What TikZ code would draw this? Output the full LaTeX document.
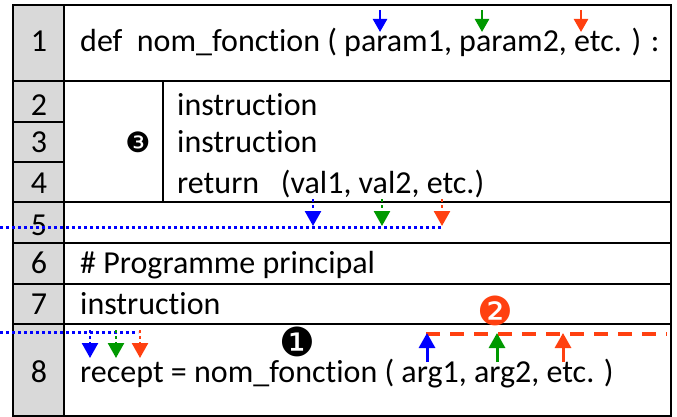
\documentclass[tikz,border=0pt]{standalone}
\usepackage{fontspec}
\setmainfont{Carlito}[RawFeature=-liga]
\newfontfamily\dingfont{DejaVu Sans}
\usetikzlibrary{arrows.meta}
\definecolor{ArgBlue}{HTML}{0000FF}
\definecolor{ArgGreen}{HTML}{009900}
\definecolor{ArgRed}{HTML}{FF4010}
\definecolor{NumGray}{HTML}{D9D9D9}

\begin{document}
\begin{tikzpicture}[x=1pt,y=-1pt,
    code/.style={anchor=base west,inner sep=0pt,font=\fontsize{32}{36}\selectfont},
    num/.style={anchor=base,inner sep=0pt,font=\fontsize{32}{36}\selectfont},
    mark3/.style={inner sep=0pt,font=\dingfont\fontsize{28}{28}\selectfont},
    mark12/.style={inner sep=0pt,font=\dingfont\fontsize{40}{40}\selectfont},
    rowline/.style={line width=2pt},
    parrow/.style={line width=2.5pt,-{Triangle[width=14pt,length=13pt]}},
    retarrow/.style={line width=2.5pt,dash pattern=on 3pt off 3pt,-{Triangle[width=16pt,length=15pt]}},
    retline/.style={ArgBlue,line width=3pt,dash pattern=on 3pt off 3pt},
    argarrow/.style={line width=3pt,-{Triangle[width=16pt,length=15pt]}},
    argline/.style={ArgRed,line width=4pt,dash pattern=on 14pt off 10pt}]

        \useasboundingbox (0,0) rectangle (677,417);
        \fill[white] (0,0) rectangle (677,417);

        \fill[NumGray] (13,5) rectangle (64,416);
        \draw[rowline] (64,5) -- (64,416);
        \draw[rowline] (163,81) -- (163,202);
        \foreach \yy in {81,202,243,284,324}
            \draw[rowline] (13,\yy) -- (671,\yy);
        \foreach \yy in {122,162}
            \draw[rowline] (13,\yy) -- (64,\yy);
        \draw[line width=2.8pt] (13,5) rectangle (671,416);

        \foreach \yy/\nn [count=\i] in {52/1,116/2,153/3,193/4,235/5,273/6,314/7,382/8}
            \node[num] (n\i) at (39,\yy) {\nn};

        \node[code] (l1) at (80,52) {def\ \ nom\_fonction ( param1, param2, etc. ) :};
        \node[code] (l2) at (177,116) {instruction};
        \node[code] (l3) at (177,153) {instruction};
        \node[code] (l4) at (177,193) {return\ \ \ (val1, val2, etc.)};
        \node[code] (l6) at (80,273) {\# Programme principal};
        \node[code] (l7) at (80,314) {instruction};
        \node[code] (l8) at (80,382) {recept = nom\_fonction ( arg1, arg2, etc. )};

        \node[mark3] (m3) at (138,142) {❸};
        \node[mark12] (m1) at (297,342) {❶};
        \node[mark12,ArgRed] (m2) at (495,311) {❷};

        \foreach \xx/\cc [count=\i] in {380/ArgBlue,482/ArgGreen,581/ArgRed}{
            \coordinate (pa\i) at (\xx,10);
            \coordinate (pb\i) at (\xx,32);
            \draw[parrow,\cc] (pa\i) -- (pb\i);
        }

        \coordinate (rw) at (0,227);
        \coordinate (re) at (443,227);
        \draw[retline] (rw) -- (re);
        \foreach \xx/\cc [count=\i] in {313/ArgBlue,382/ArgGreen,442/ArgRed}{
            \coordinate (ra\i) at (\xx,199);
            \coordinate (rb\i) at (\xx,226);
            \draw[retarrow,\cc] (ra\i) -- (rb\i);
        }

        \coordinate (cw) at (0,332);
        \coordinate (ce) at (138,332);
        \draw[retline] (cw) -- (ce);
        \foreach \xx/\cc [count=\i] in {90/ArgBlue,116/ArgGreen,140/ArgRed}{
            \coordinate (ca\i) at (\xx,330);
            \coordinate (cb\i) at (\xx,358);
            \draw[retarrow,\cc] (ca\i) -- (cb\i);
        }

        \coordinate (aw) at (426,334);
        \coordinate (ae) at (667,334);
        \draw[argline] (aw) -- (ae);
        \foreach \xx/\cc [count=\i] in {427/ArgBlue,497/ArgGreen,563/ArgRed}{
            \coordinate (aa\i) at (\xx,362);
            \coordinate (ab\i) at (\xx,333);
            \draw[argarrow,\cc] (aa\i) -- (ab\i);
        }

\end{tikzpicture}
\end{document}
